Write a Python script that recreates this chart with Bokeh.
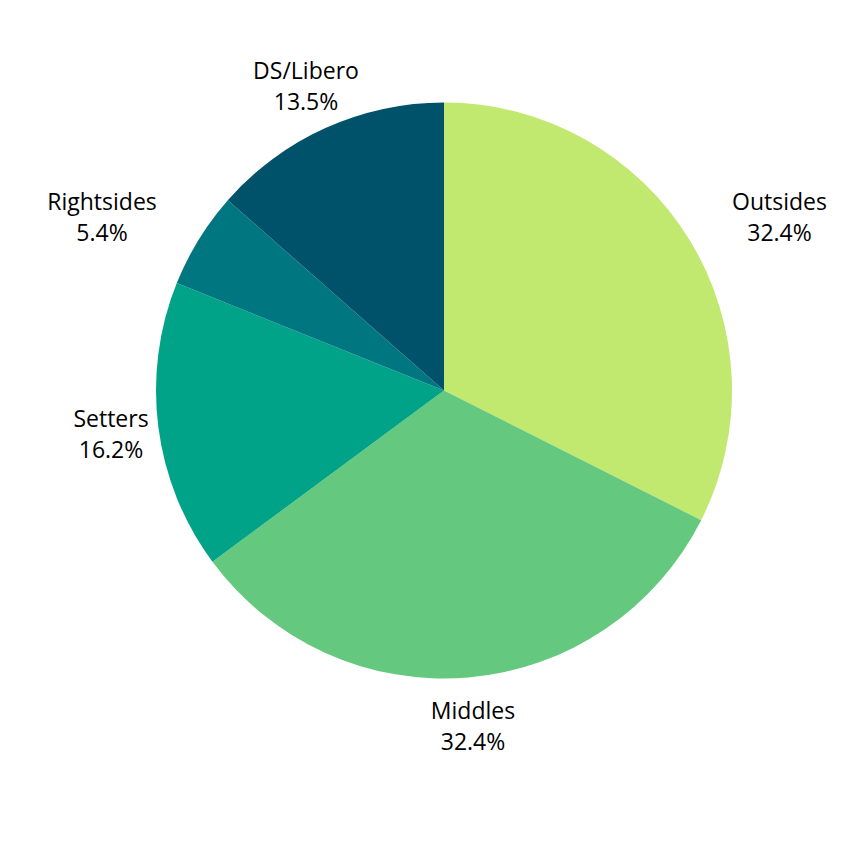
import math
from bokeh.plotting import figure
from bokeh.models import Range1d, ColumnDataSource
from bokeh.core.properties import value
from bokeh.embed import file_html
from bokeh.resources import INLINE

categories = ["Outsides", "Middles", "Setters", "Rightsides", "DS/Libero"]
shares = [32.4, 32.4, 16.2, 5.4, 13.5]
pct_labels = ["32.4%", "32.4%", "16.2%", "5.4%", "13.5%"]
colors = ["#C1E86F", "#64C97E", "#00A387", "#007780", "#00516A"]

W, H = 844, 840
p = figure(width=W, height=H, output_backend="svg", toolbar_location=None,
           x_range=Range1d(0, W), y_range=Range1d(856 - H, 856),
           min_border=0)
p.axis.visible = False
p.grid.visible = False
p.outline_line_color = None
p.background_fill_color = "white"

cx, cy, r = 443.5, 856 - 390, 288
total = sum(shares)
starts, ends = [], []
acc = 0.0
for s in shares:
    a0 = math.pi / 2 - 2 * math.pi * acc / total
    acc += s
    a1 = math.pi / 2 - 2 * math.pi * acc / total
    starts.append(a0)
    ends.append(a1)

src = ColumnDataSource(dict(start=starts, end=ends, color=colors))
p.wedge(x=cx, y=cy, radius=r, start_angle="start", end_angle="end",
        direction="clock", fill_color="color", line_color=None, source=src)

# label anchor positions (page pixels, center of two-line block)
label_pos = [(779, 215.5), (472.5, 725), (110.5, 433), (101.5, 215.5), (305.5, 85)]
lx = [a for a, b in label_pos]
ly1 = [856 - b + 15.5 for a, b in label_pos]
ly2 = [856 - b - 15.5 for a, b in label_pos]

common = dict(text_font=value("Open Sans"), text_font_size="23px", text_color="#000000",
              text_align="center", text_baseline="middle")
p.text(x=lx, y=ly1, text=categories, **common)
p.text(x=lx, y=ly2, text=pct_labels, **common)

open("out.html", "w").write(file_html(p, INLINE))
